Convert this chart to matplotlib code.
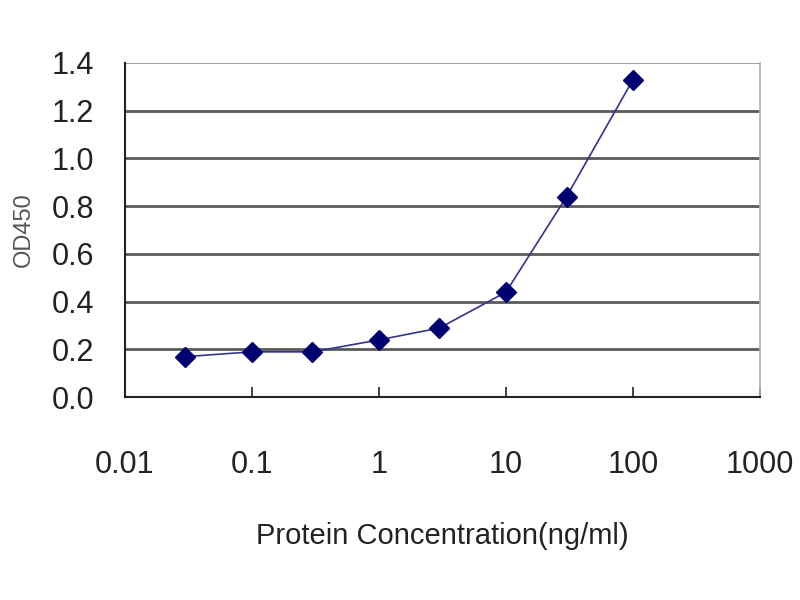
import matplotlib
matplotlib.use('Agg')
import matplotlib.pyplot as plt
import numpy as np

# 浓度 (ng/ml) 与 OD450 读数
conc = [0.03, 0.1, 0.3, 1, 3, 10, 30, 100]
od450 = [0.17, 0.19, 0.19, 0.24, 0.29, 0.44, 0.84, 1.33]
x_ticks = [0.01, 0.1, 1, 10, 100, 1000]
x_labels = ['0.01', '0.1', '1', '10', '100', '1000']
y_ticks = [0.0, 0.2, 0.4, 0.6, 0.8, 1.0, 1.2, 1.4]

plt.rcParams['font.family'] = ['Liberation Sans', 'DejaVu Sans']

fig = plt.figure(figsize=(8, 6), dpi=100)
ax = fig.add_axes([0.156, 0.338, 0.794, 0.557])

# 网格线
for y in y_ticks[1:-1]:
    ax.axhline(y, color='#5a5a5a', lw=2.0, zorder=1)
ax.axhline(y_ticks[-1], color='#a0a0a0', lw=1.5, zorder=1)

ax.plot(conc, od450, color='#33338f', lw=1.2, zorder=2)
ax.plot(conc, od450, linestyle='none', marker='D', ms=10, color='#000070', zorder=3)

ax.set_xscale('log')
ax.set_xlim(0.01, 1000)
ax.set_ylim(0, 1.4)
ax.set_xticks(x_ticks)
ax.set_xticklabels(x_labels)
ax.minorticks_off()
ax.set_yticks(y_ticks)
ax.set_yticklabels(['%.1f' % v for v in y_ticks])

ax.tick_params(axis='x', direction='in', length=7, width=1.2, pad=38, labelsize=22, colors='#222222')
ax.tick_params(axis='y', length=0, pad=22, labelsize=22, colors='#222222')

for s in ['left', 'bottom']:
    ax.spines[s].set_color('#222222')
    ax.spines[s].set_linewidth(1.5)
ax.spines['right'].set_color('#b0b0b0')
ax.spines['right'].set_linewidth(1.2)
ax.spines['top'].set_visible(False)

ax.set_xlabel('Protein Concentration(ng/ml)', fontsize=21, color='#222222', labelpad=30)
ax.set_ylabel('OD450', fontsize=17, color='#555555', labelpad=12)

fig.savefig('out.png', dpi=100)
